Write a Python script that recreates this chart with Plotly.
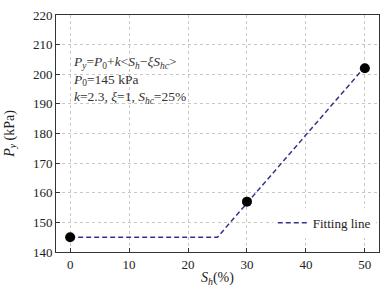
import plotly.graph_objects as go

sh_points = [0, 30, 50]
py_points = [145, 157, 202]

fit_x = [0, 25, 50]
fit_y = [145, 145, 202.5]

font = "Liberation Serif, Times New Roman, serif"

fig = go.Figure()
fig.add_trace(go.Scatter(x=fit_x, y=fit_y, mode="lines", name="Fitting line",
                         line=dict(color="#34348a", width=1.5, dash="5px,3px")))
fig.add_trace(go.Scatter(x=sh_points, y=py_points, mode="markers", showlegend=False,
                         marker=dict(color="black", size=10)))

axis_common = dict(showline=True, linecolor="#333", linewidth=1, mirror=True,
                   showgrid=True, gridcolor="#cdc4c4", griddash="dot", gridwidth=1,
                   ticks="inside", ticklen=4, tickcolor="#333", zeroline=False,
                   automargin=False, tickfont=dict(size=13, color="#222"))

fig.update_xaxes(range=[-2.4, 52.4], tickvals=[0, 10, 20, 30, 40, 50], **axis_common)
fig.update_yaxes(range=[140, 220], tickvals=[140, 150, 160, 170, 180, 190, 200, 210, 220], **axis_common,
                 title=dict(text="<i>P</i><sub><i>y</i></sub> (kPa)", font=dict(size=14, color="#222")))

fig.add_annotation(xref="paper", yref="paper", x=0.5, y=-0.112, xanchor="center", yanchor="middle",
                   showarrow=False, font=dict(family=font, size=14, color="#222"),
                   text="<i>S</i><sub><i>h</i></sub>(%)")

fig.add_annotation(xref="paper", yref="paper", x=0.045, y=0.845, xanchor="left", yanchor="top",
                   align="left", showarrow=False,
                   font=dict(family=font, size=13.5, color="#333"),
                   text=("<i>P</i><sub><i>y</i></sub>=<i>P</i><sub>0</sub>+<i>k</i>&lt;<i>S</i><sub><i>h</i></sub>−<i>ξS</i><sub><i>hc</i></sub>&gt;<br>"
                         "<i>P</i><sub>0</sub>=145 kPa<br>"
                         "<i>k</i>=2.3, <i>ξ</i>=1, <i>S</i><sub><i>hc</i></sub>=25%"))

fig.update_layout(width=390, height=295, margin=dict(l=56, r=11, t=15, b=43),
                  paper_bgcolor="white", plot_bgcolor="white",
                  font=dict(family=font, size=13, color="#222"),
                  legend=dict(x=0.99, y=0.06, xanchor="right", yanchor="bottom",
                              bgcolor="rgba(255,255,255,0.9)", font=dict(size=13),
                              itemwidth=30))

fig.write_html("out.html", config={"displayModeBar": False},
               post_script="document.body.style.margin='0';document.body.style.overflow='hidden';")
